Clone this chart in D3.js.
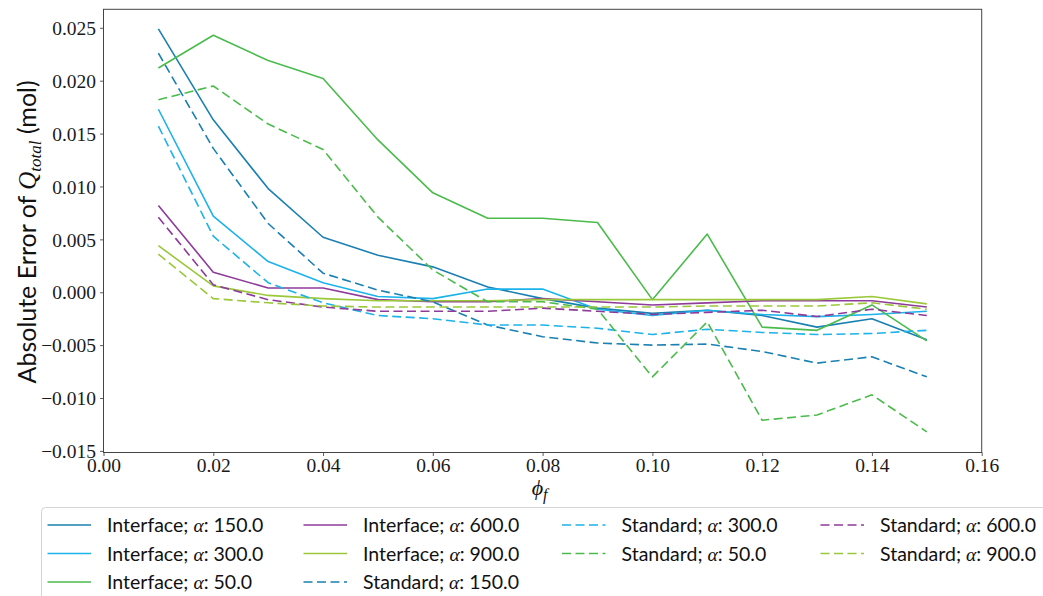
<!DOCTYPE html>
<html>
<head>
<meta charset="utf-8">
<script src="https://cdn.jsdelivr.net/npm/d3@7"></script>
<style>
  html, body { margin: 0; padding: 0; background: #fff; }
  svg { display: block; }
</style>
</head>
<body>
<svg id="chart" width="1043" height="596"></svg>
<script>
// Volume fractions on the x axis
const phi = [0.01, 0.02, 0.03, 0.04, 0.05, 0.06, 0.07, 0.08, 0.09, 0.10, 0.11, 0.12, 0.13, 0.14, 0.15];

// Absolute error of Q_total (mol) per method and alpha
const interface150 = [0.0249, 0.0163, 0.0098, 0.0052, 0.0035, 0.0024, 0.0005, -0.0006, -0.0015, -0.0020, -0.0017, -0.0022, -0.0033, -0.0025, -0.0045];
const interface300 = [0.0173, 0.0072, 0.0029, 0.0009, -0.0004, -0.0006, 0.0003, 0.0003, -0.0016, -0.0022, -0.0017, -0.0021, -0.0023, -0.0021, -0.0018];
const interface50  = [0.0212, 0.0243, 0.0219, 0.0202, 0.0144, 0.0094, 0.0070, 0.0070, 0.0066, -0.0007, 0.0055, -0.0033, -0.0036, -0.0012, -0.0046];
const interface600 = [0.0082, 0.0019, 0.0004, 0.0004, -0.0007, -0.0009, -0.0009, -0.0006, -0.0009, -0.0012, -0.0010, -0.0008, -0.0008, -0.0008, -0.0014];
const interface900 = [0.0044, 0.0006, -0.0003, -0.0006, -0.0008, -0.0008, -0.0008, -0.0007, -0.0007, -0.0007, -0.0007, -0.0007, -0.0007, -0.0004, -0.0011];
const standard150  = [0.0226, 0.0136, 0.0065, 0.0018, 0.0002, -0.0009, -0.0031, -0.0042, -0.0048, -0.0050, -0.0049, -0.0056, -0.0067, -0.0061, -0.0080];
const standard300  = [0.0157, 0.0053, 0.0009, -0.0010, -0.0022, -0.0025, -0.0031, -0.0031, -0.0034, -0.0040, -0.0035, -0.0038, -0.0040, -0.0039, -0.0036];
const standard50   = [0.0182, 0.0195, 0.0159, 0.0135, 0.0071, 0.0021, -0.0009, -0.0009, -0.0016, -0.0080, -0.0028, -0.0121, -0.0116, -0.0097, -0.0132];
const standard600  = [0.0071, 0.0007, -0.0007, -0.0014, -0.0018, -0.0018, -0.0018, -0.0015, -0.0018, -0.0021, -0.0019, -0.0017, -0.0023, -0.0016, -0.0022];
const standard900  = [0.0036, -0.0006, -0.0010, -0.0013, -0.0014, -0.0014, -0.0014, -0.0014, -0.0014, -0.0014, -0.0013, -0.0013, -0.0013, -0.0010, -0.0016];

// Tick values
const xTicks = [0.00, 0.02, 0.04, 0.06, 0.08, 0.10, 0.12, 0.14, 0.16];
const yTicks = [-0.015, -0.010, -0.005, 0.000, 0.005, 0.010, 0.015, 0.020, 0.025];

// Series: method, alpha label, values, colour, dashed?
const series = [
  { method: "Interface", alpha: "150.0", values: interface150, color: "#1a80b2", dashed: false },
  { method: "Interface", alpha: "300.0", values: interface300, color: "#1bb3e9", dashed: false },
  { method: "Interface", alpha: "50.0",  values: interface50,  color: "#4bbb4c", dashed: false },
  { method: "Interface", alpha: "600.0", values: interface600, color: "#8e3b99", dashed: false },
  { method: "Interface", alpha: "900.0", values: interface900, color: "#9bc83a", dashed: false },
  { method: "Standard",  alpha: "150.0", values: standard150,  color: "#1a80b2", dashed: true },
  { method: "Standard",  alpha: "300.0", values: standard300,  color: "#1bb3e9", dashed: true },
  { method: "Standard",  alpha: "50.0",  values: standard50,   color: "#4bbb4c", dashed: true },
  { method: "Standard",  alpha: "600.0", values: standard600,  color: "#8e3b99", dashed: true },
  { method: "Standard",  alpha: "900.0", values: standard900,  color: "#9bc83a", dashed: true }
];

const svg = d3.select("#chart");
const plot = { left: 103.5, right: 981.7, top: 9.3, bottom: 452.5 };
const dash = "9,4.5";
const lineW = 1.6;
const sans = "Lato, 'Noto Sans', sans-serif";
const serif = "'Liberation Serif', 'DejaVu Serif', serif";

const x = d3.scaleLinear().domain([0, 0.16]).range([plot.left, plot.right]);
const y = d3.scaleLinear().domain([-0.01515, 0.02675]).range([plot.bottom, plot.top]);

const fmtY = v => d3.format(".3f")(v).replace("-", "\u2212");
const fmtX = v => d3.format(".2f")(v);

// Clip lines to the axes box
svg.append("defs").append("clipPath").attr("id", "plotClip")
  .append("rect")
  .attr("x", plot.left).attr("y", plot.top)
  .attr("width", plot.right - plot.left).attr("height", plot.bottom - plot.top);

const line = d3.line()
  .x((d, i) => x(phi[i]))
  .y(d => y(d));

const lines = svg.append("g").attr("clip-path", "url(#plotClip)");
series.forEach(s => {
  lines.append("path")
    .datum(s.values)
    .attr("d", line)
    .attr("fill", "none")
    .attr("stroke", s.color)
    .attr("stroke-width", lineW)
    .attr("stroke-linejoin", "round")
    .attr("stroke-dasharray", s.dashed ? dash : null);
});

// Axes
const xAxis = svg.append("g")
  .attr("transform", `translate(0,${plot.bottom})`)
  .call(d3.axisBottom(x).tickValues(xTicks).tickFormat(fmtX).tickSizeOuter(0).tickSizeInner(3.5).tickPadding(2));
const yAxis = svg.append("g")
  .attr("transform", `translate(${plot.left},0)`)
  .call(d3.axisLeft(y).tickValues(yTicks).tickFormat(fmtY).tickSizeOuter(0).tickSizeInner(3.5).tickPadding(4));

[xAxis, yAxis].forEach(g => {
  g.select(".domain").remove();
  g.selectAll(".tick line").attr("stroke", "#333").attr("stroke-width", 0.8);
  g.selectAll(".tick text").attr("fill", "#1a1a1a").style("font-size", "19.5px").style("font-family", serif);
});
yAxis.selectAll(".tick text").attr("dy", "0.34em");
xAxis.selectAll(".tick text").attr("dy", "0.74em");

// Frame
svg.append("rect")
  .attr("x", plot.left).attr("y", plot.top)
  .attr("width", plot.right - plot.left).attr("height", plot.bottom - plot.top)
  .attr("fill", "none").attr("stroke", "#444").attr("stroke-width", 1);

// Axis labels
const yl = svg.append("text")
  .attr("transform", `translate(36,${(plot.top + plot.bottom) / 2 + 1}) rotate(-90)`)
  .attr("text-anchor", "middle")
  .attr("fill", "#111")
  .style("font-size", "25px")
  .style("font-family", sans);
yl.append("tspan").text("Absolute Error of ");
yl.append("tspan").style("font-family", serif).style("font-style", "italic").text("Q");
yl.append("tspan").style("font-family", serif).style("font-style", "italic").style("font-size", "17px").attr("dy", 5).text("total");
yl.append("tspan").attr("dy", -5).text(" (mol)");

const xl = svg.append("text")
  .attr("x", (plot.left + plot.right) / 2 - 3)
  .attr("y", 495)
  .attr("text-anchor", "middle")
  .attr("fill", "#111")
  .style("font-family", serif)
  .style("font-style", "italic")
  .style("font-size", "22px");
xl.append("tspan").text("\u03d5");
xl.append("tspan").attr("dy", 5).style("font-size", "16px").text("f");

// Legend: 10 entries in 4 columns, filled column by column (3, 3, 2, 2)
const legend = svg.append("g");
legend.append("rect")
  .attr("x", 41.5).attr("y", 507.5)
  .attr("width", 1020).attr("height", 110)
  .attr("rx", 4)
  .attr("fill", "#fff").attr("fill-opacity", 0.8)
  .attr("stroke", "#d4d4d4").attr("stroke-width", 1);

const colX = [47.5, 303.5, 562, 820.5];
const rowY = [525, 553.5, 582];
const colSizes = [3, 3, 2, 2];
let idx = 0;
colSizes.forEach((n, c) => {
  for (let r = 0; r < n; r++, idx++) {
    const s = series[idx];
    const lx = colX[c], ly = rowY[r];
    legend.append("line")
      .attr("x1", lx).attr("x2", lx + 43.5)
      .attr("y1", ly).attr("y2", ly)
      .attr("stroke", s.color).attr("stroke-width", lineW)
      .attr("stroke-dasharray", s.dashed ? dash : null);
    const t = legend.append("text")
      .attr("x", lx + 59.5).attr("y", ly + 7)
      .attr("fill", "#111")
      .style("font-family", sans)
      .style("font-size", "19.5px");
    t.append("tspan").text(s.method + "; ");
    t.append("tspan").style("font-family", serif).style("font-style", "italic").text("\u03b1");
    t.append("tspan").text(": " + s.alpha);
  }
});
</script>
</body>
</html>
